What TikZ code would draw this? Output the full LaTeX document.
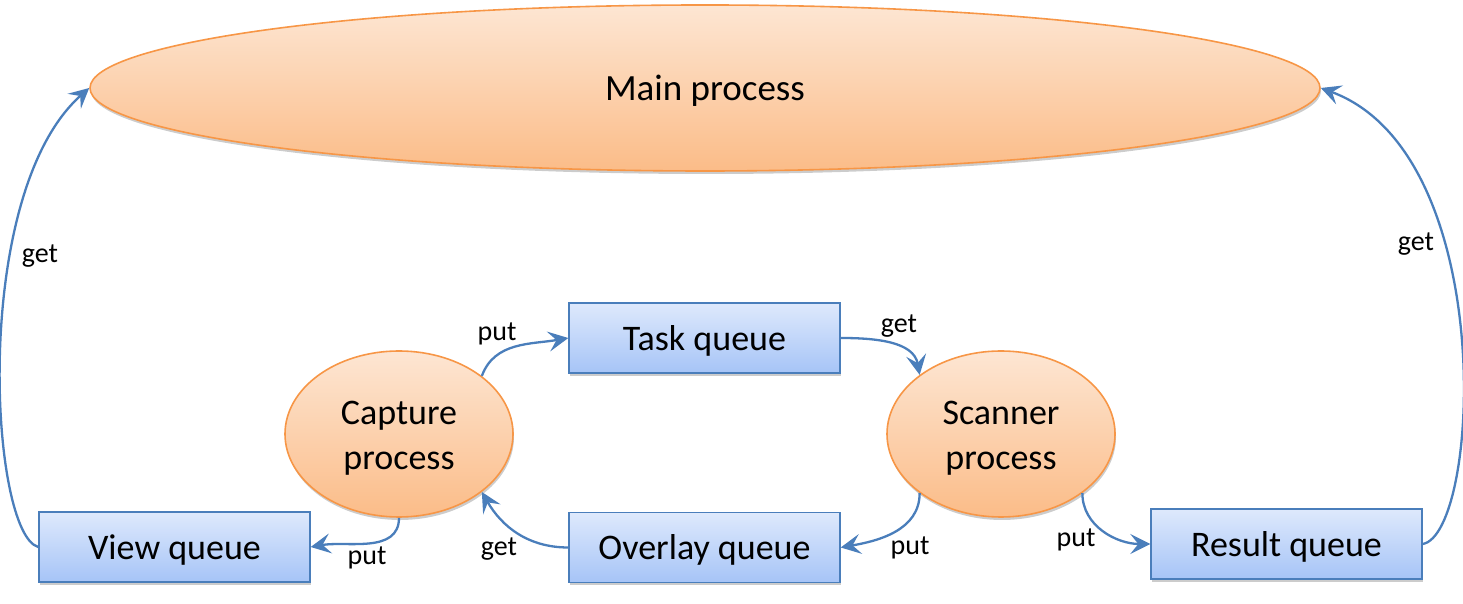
\documentclass[tikz,border=0pt]{standalone}
\usepackage{fontspec}
\setmainfont{Carlito}
\usetikzlibrary{shapes.geometric,arrows.meta,shadows}

\definecolor{procline}{HTML}{F79646}
\definecolor{proctop}{HTML}{FDE6D3}
\definecolor{procbot}{HTML}{FBBC88}
\definecolor{queueline}{HTML}{4A7EBB}
\definecolor{queuetop}{HTML}{DEE9FC}
\definecolor{queuebot}{HTML}{A6C4F7}
\definecolor{arrowblue}{HTML}{4A7EBB}

\tikzset{
	procnode/.style={ellipse, draw=procline, line width=1.6pt, top color=proctop, bottom color=procbot,
		inner sep=0pt, drop shadow={shadow xshift=1pt, shadow yshift=-3pt, fill=black, opacity=0.2}},
	proctext/.style={align=center, yshift=-4pt, font=\fontsize{36}{45}\selectfont},
	queuebox/.style={rectangle, draw=queueline, line width=1.4pt, top color=queuetop, bottom color=queuebot,
		minimum width=271pt, minimum height=70pt, inner sep=0pt, text depth=0pt, font=\fontsize{36}{44}\selectfont,
		drop shadow={shadow xshift=1pt, shadow yshift=-3pt, fill=black, opacity=0.2}},
	flowarrow/.style={draw=arrowblue, line width=2.3pt, -{Stealth[length=20pt, width=20pt, inset=8pt]}},
	lbl/.style={font=\fontsize{28}{32}\selectfont, inner sep=0pt}
}

\begin{document}
\begin{tikzpicture}[x=1pt, y=1pt]
		\useasboundingbox (0,0) rectangle (1463,604);
		% processes
		\node[procnode, minimum width=1230pt, minimum height=166pt,
			label={[proctext, yshift=1pt, font=\fontsize{37}{44}\selectfont]center:Main process}] (main) at (705,516) {};
		\node[procnode, minimum width=228pt, minimum height=166pt,
			label={[proctext]center:{Capture\\process}}] (capture) at (399,170) {};
		\node[procnode, minimum width=228pt, minimum height=166pt,
			label={[proctext]center:{Scanner\\process}}] (scanner) at (1001,170) {};
		% queues
		\node[queuebox] (task) at (704.5,266) {Task queue};
		\node[queuebox] (view) at (174.5,57) {View queue};
		\node[queuebox] (overlay) at (704.5,56.5) {Overlay queue};
		\node[queuebox] (result) at (1286.5,60) {Result queue};
		% connectors
		\draw[flowarrow] (capture.35) to[out=70, in=190] (task.west);
		\draw[flowarrow] (task.east) to[out=0, in=100] (scanner.144);
		\draw[flowarrow] (scanner.216) to[out=-90, in=10] (overlay.east);
		\draw[flowarrow] (scanner.-36) to[out=-90, in=180] (result.west);
		\draw[flowarrow] (overlay.west) to[out=180, in=-60] (capture.-35);
		\draw[flowarrow] (capture.south) to[out=-90, in=10] (view.east);
		\draw[flowarrow] (view.west) .. controls (-10,70) and (-30,410) .. (main.west);
		\draw[flowarrow] (result.east) .. controls (1480,70) and (1500,450) .. (main.east);
		% labels
		\node[lbl] (lget1) at (40,348) {get};
		\node[lbl] (lget2) at (1416,360) {get};
		\node[lbl] (lput1) at (497,270) {put};
		\node[lbl] (lget3) at (899,278) {get};
		\node[lbl] (lput2) at (910,56) {put};
		\node[lbl] (lput3) at (1076,64) {put};
		\node[lbl] (lget4) at (499,55) {get};
		\node[lbl] (lput4) at (367,46) {put};
\end{tikzpicture}
\end{document}
